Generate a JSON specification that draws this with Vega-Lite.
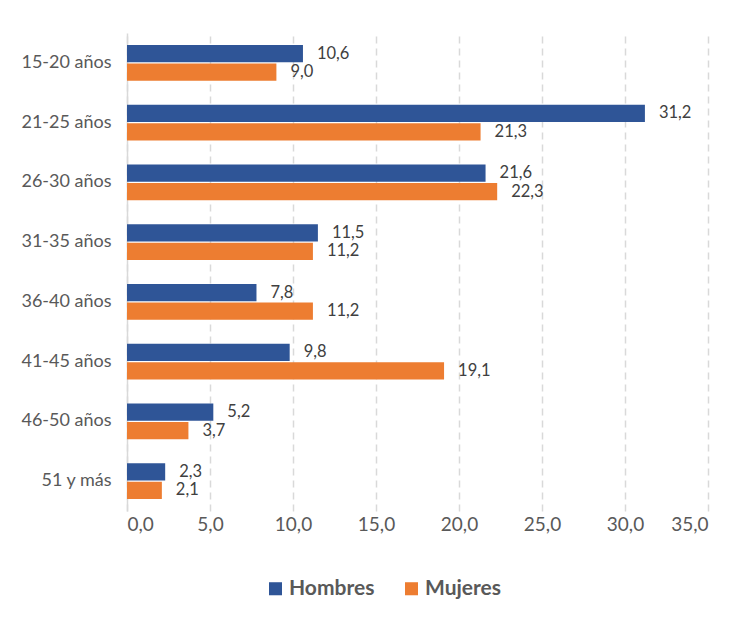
{
  "$schema": "https://vega.github.io/schema/vega-lite/v6.json",
  "width": 581,
  "height": 478,
  "autosize": {"type": "none"},
  "padding": {"left": 127, "top": 33, "right": 34, "bottom": 109},
  "background": "white",
  "config": {
    "locale": {"number": {"decimal": ",", "thousands": ".", "grouping": [3], "currency": ["", " €"]}},
    "font": "Lato",
    "view": {"stroke": null}
  },
  "data": {
    "values": [
      {"edad": "15-20 años", "sexo": "Hombres", "valor": 10.6},
      {"edad": "15-20 años", "sexo": "Mujeres", "valor": 9.0},
      {"edad": "21-25 años", "sexo": "Hombres", "valor": 31.2},
      {"edad": "21-25 años", "sexo": "Mujeres", "valor": 21.3},
      {"edad": "26-30 años", "sexo": "Hombres", "valor": 21.6},
      {"edad": "26-30 años", "sexo": "Mujeres", "valor": 22.3},
      {"edad": "31-35 años", "sexo": "Hombres", "valor": 11.5},
      {"edad": "31-35 años", "sexo": "Mujeres", "valor": 11.2},
      {"edad": "36-40 años", "sexo": "Hombres", "valor": 7.8},
      {"edad": "36-40 años", "sexo": "Mujeres", "valor": 11.2},
      {"edad": "41-45 años", "sexo": "Hombres", "valor": 9.8},
      {"edad": "41-45 años", "sexo": "Mujeres", "valor": 19.1},
      {"edad": "46-50 años", "sexo": "Hombres", "valor": 5.2},
      {"edad": "46-50 años", "sexo": "Mujeres", "valor": 3.7},
      {"edad": "51 y más", "sexo": "Hombres", "valor": 2.3},
      {"edad": "51 y más", "sexo": "Mujeres", "valor": 2.1}
    ]
  },
  "encoding": {
    "y": {
      "field": "edad", "type": "nominal", "sort": null,
      "scale": {"paddingInner": 0.4, "paddingOuter": 0.2},
      "axis": {"title": null, "ticks": false, "labelPadding": 16, "labelFontSize": 18, "labelColor": "#595959",
               "domainColor": "#d9d9d9", "domainWidth": 1.5, "grid": false}
    },
    "yOffset": {"field": "sexo", "type": "nominal", "sort": ["Hombres", "Mujeres"], "scale": {"paddingInner": 0.06}},
    "x": {
      "field": "valor", "type": "quantitative",
      "scale": {"domain": [0, 35], "nice": false},
      "axis": {"title": null, "values": [0, 5, 10, 15, 20, 25, 30, 35], "format": ".1f", "ticks": false, "domain": false,
               "labelFontSize": 19, "labelColor": "#595959", "labelPadding": 4,
               "gridColor": "#d9d9d9", "gridDash": [7, 5], "gridWidth": 1.5}
    }
  },
  "layer": [
    {
      "mark": {"type": "bar"},
      "encoding": {
        "color": {
          "field": "sexo", "type": "nominal", "sort": ["Hombres", "Mujeres"],
          "scale": {"domain": ["Hombres", "Mujeres"], "range": ["#2F5597", "#ED7D31"]},
          "legend": {"title": null, "orient": "none", "direction": "horizontal", "legendX": 138, "legendY": 545,
                     "symbolType": "square", "symbolSize": 170, "symbolStrokeWidth": 0,
                     "labelFontSize": 21, "labelFontWeight": "bold", "labelColor": "#595959", "columnPadding": 26, "labelOffset": 3}
        }
      }
    },
    {
      "mark": {"type": "text", "align": "left", "dx": 14, "fontSize": 16.5, "color": "#404040"},
      "encoding": {"text": {"field": "valor", "type": "quantitative", "format": ".1f"}}
    }
  ]
}
